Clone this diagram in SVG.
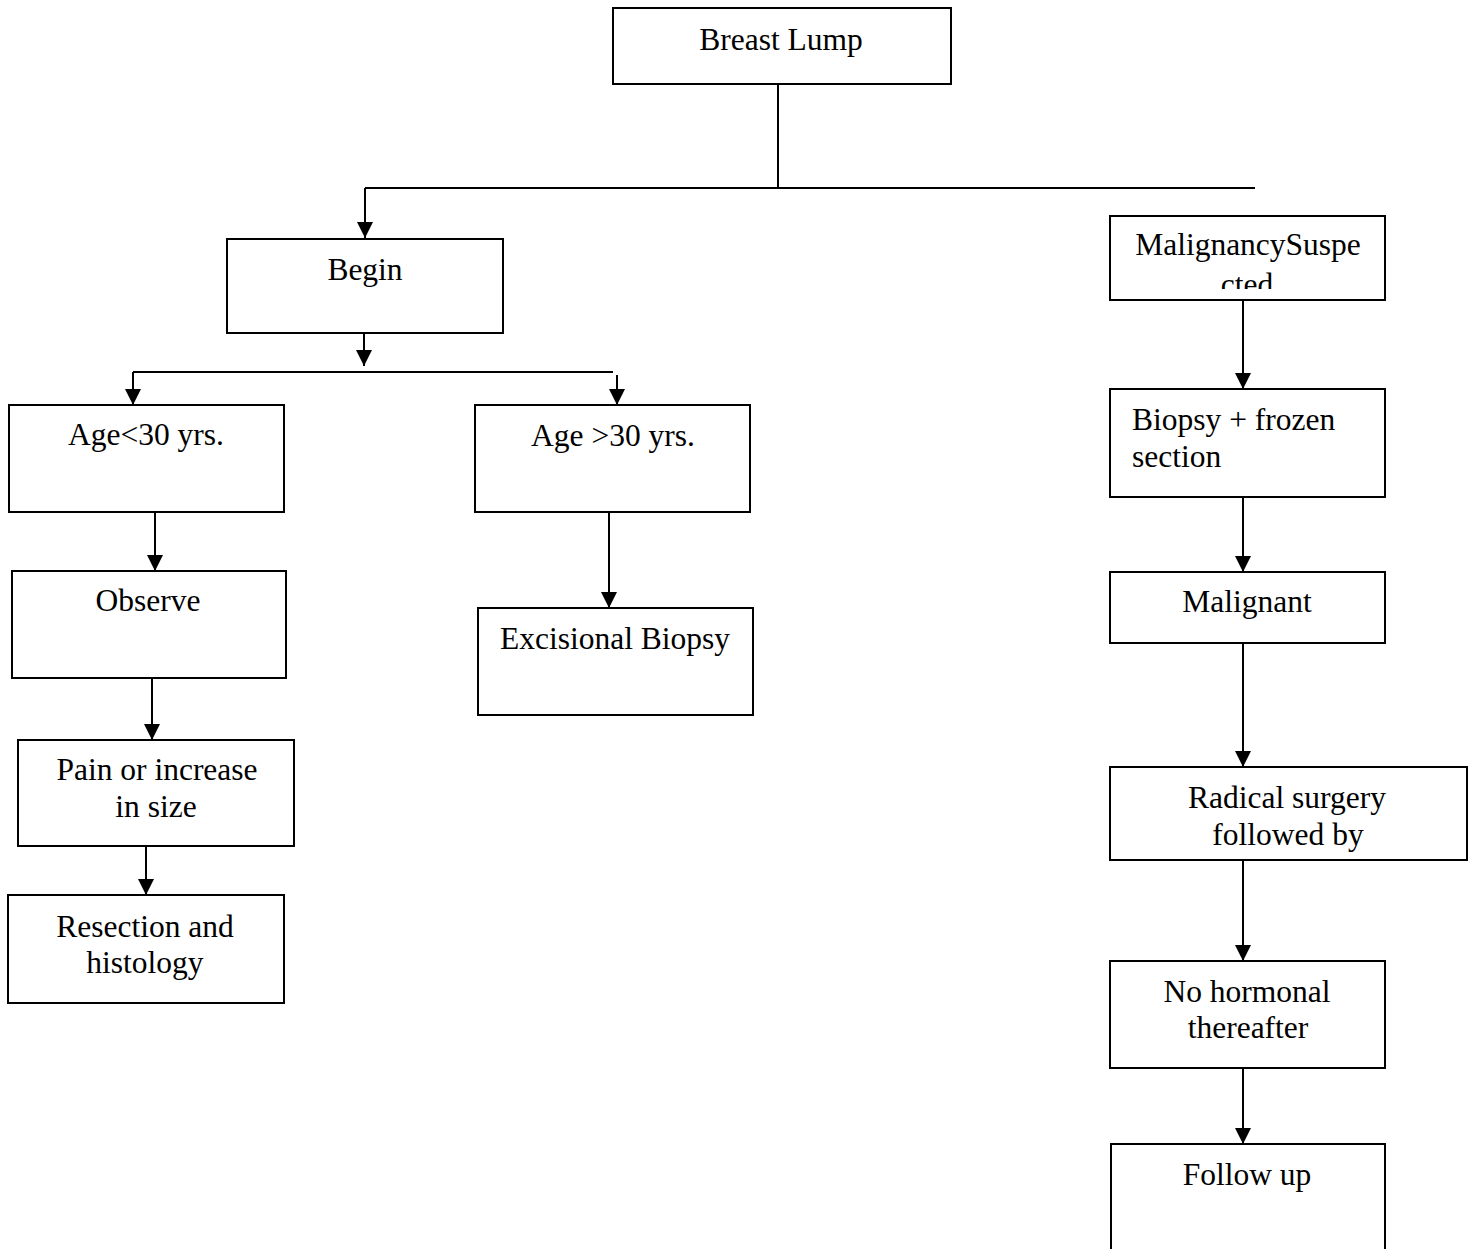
<svg xmlns="http://www.w3.org/2000/svg" width="1476" height="1249" viewBox="0 0 1476 1249">
<style>
  .box { fill: #fff; stroke: #000; stroke-width: 2; }
  .t { font-family: "Liberation Serif", "Times New Roman", serif; font-size: 31.5px; fill: #000; }
  .c { text-anchor: middle; }
  .ln { fill: none; stroke: #000; stroke-width: 2; }
  .ar { fill: none; stroke: #000; stroke-width: 2; marker-end: url(#ah); }
</style>
<defs>
  <marker id="ah" markerUnits="userSpaceOnUse" markerWidth="17" markerHeight="17" refX="16" refY="8" orient="auto" viewBox="0 0 17 17">
    <path d="M0,0 L16,8 L0,16 z" fill="#000"/>
  </marker>
  <clipPath id="clipMS"><rect x="1111" y="217" width="273" height="72"/></clipPath>
</defs>
<rect width="1476" height="1249" fill="#fff"/>

<g id="connectors">
  <path class="ln" d="M778,84 V188"/>
  <path class="ln" d="M365,188 H1255"/>
  <path class="ar" d="M365,188 V238"/>
  <path class="ar" d="M364,333 V366"/>
  <path class="ln" d="M133,372 H613"/>
  <path class="ar" d="M133,372 V405"/>
  <path class="ar" d="M617,375 V405"/>
  <path class="ar" d="M155,512 V571"/>
  <path class="ar" d="M152,678 V740"/>
  <path class="ar" d="M146,846 V895"/>
  <path class="ar" d="M609,512 V608"/>
  <path class="ar" d="M1243,300 V389"/>
  <path class="ar" d="M1243,497 V572"/>
  <path class="ar" d="M1243,643 V767"/>
  <path class="ar" d="M1243,860 V961"/>
  <path class="ar" d="M1243,1068 V1144"/>
</g>

<g id="breast-lump">
  <rect class="box" x="613" y="8" width="338" height="76"/>
  <text class="t c" x="781" y="50">Breast Lump</text>
</g>

<g id="begin">
  <rect class="box" x="227" y="239" width="276" height="94"/>
  <text class="t c" x="365" y="280">Begin</text>
</g>

<g id="age-lt-30">
  <rect class="box" x="9" y="405" width="275" height="107"/>
  <text class="t c" x="146" y="445">Age&lt;30 yrs.</text>
</g>

<g id="age-gt-30">
  <rect class="box" x="475" y="405" width="275" height="107"/>
  <text class="t c" x="613" y="446">Age &gt;30 yrs.</text>
</g>

<g id="observe">
  <rect class="box" x="12" y="571" width="274" height="107"/>
  <text class="t c" x="148" y="611">Observe</text>
</g>

<g id="excisional-biopsy">
  <rect class="box" x="478" y="608" width="275" height="107"/>
  <text class="t c" x="615" y="649">Excisional Biopsy</text>
</g>

<g id="pain">
  <rect class="box" x="18" y="740" width="276" height="106"/>
  <text class="t c" x="157" y="780">Pain or increase</text>
  <text class="t c" x="156" y="817">in size</text>
</g>

<g id="resection">
  <rect class="box" x="8" y="895" width="276" height="108"/>
  <text class="t c" x="145" y="937">Resection and</text>
  <text class="t c" x="145" y="973">histology</text>
</g>

<g id="malignancy-suspected">
  <rect class="box" x="1110" y="216" width="275" height="84"/>
  <g clip-path="url(#clipMS)">
    <text class="t c" x="1248" y="255">MalignancySuspe</text>
    <text class="t c" x="1247" y="295">cted</text>
  </g>
</g>

<g id="biopsy-frozen">
  <rect class="box" x="1110" y="389" width="275" height="108"/>
  <text class="t" x="1132" y="430">Biopsy + frozen</text>
  <text class="t" x="1132" y="467">section</text>
</g>

<g id="malignant">
  <rect class="box" x="1110" y="572" width="275" height="71"/>
  <text class="t c" x="1247" y="612">Malignant</text>
</g>

<g id="radical-surgery">
  <rect class="box" x="1110" y="767" width="357" height="93"/>
  <text class="t c" x="1287" y="808">Radical surgery</text>
  <text class="t c" x="1288" y="845">followed by</text>
</g>

<g id="no-hormonal">
  <rect class="box" x="1110" y="961" width="275" height="107"/>
  <text class="t c" x="1247" y="1002">No hormonal</text>
  <text class="t c" x="1248" y="1038">thereafter</text>
</g>

<g id="follow-up">
  <path class="ln" d="M1111,1252 V1144 H1385 V1252"/>
  <text class="t c" x="1247" y="1185">Follow up</text>
</g>
</svg>
